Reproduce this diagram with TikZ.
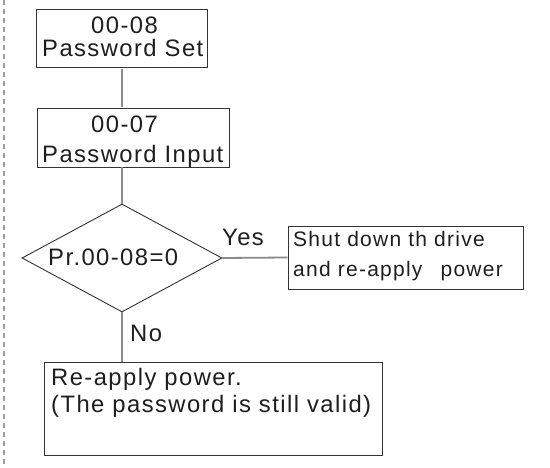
\documentclass[tikz,border=0pt]{standalone}
\usepackage{fontspec}
\setmainfont{Liberation Sans}[LetterSpace=6]
\usetikzlibrary{shapes.geometric}
\definecolor{linegray}{HTML}{8A8A8A}
\definecolor{dashgray}{HTML}{A0A0A0}
\definecolor{boxline}{HTML}{333333}
\definecolor{txt}{HTML}{1E1E1E}
\begin{document}
\begin{tikzpicture}[x=1pt,y=-1pt,
  box/.style={draw=boxline,line width=0.9pt,rectangle,inner sep=0pt},
  dec/.style={draw=boxline,line width=0.9pt,diamond,inner sep=0pt},
  conn/.style={draw=linegray,line width=1.8pt},
  lbl/.style={anchor=base west,inner sep=0pt,text=txt,font=\fontsize{23.8}{26}\selectfont},
  lblc/.style={anchor=base,inner sep=0pt,text=txt,font=\fontsize{23.8}{26}\selectfont},
  lbls/.style={anchor=base west,inner sep=0pt,text=txt,font=\fontsize{21}{24}\selectfont}]
\useasboundingbox (0,0) rectangle (550,468);
\draw[dashgray,line width=1.4pt,dash pattern=on 5pt off 4pt] (4,0) -- (4,468);
% boxes
\node[box,minimum width=171pt,minimum height=58pt] (b1) at (121.5,38) {};
\node[box,minimum width=192pt,minimum height=59pt] (b2) at (133,137.5) {};
\node[dec,minimum width=200pt,minimum height=108pt] (d) at (122,258) {};
\node[box,minimum width=235pt,minimum height=63pt] (yb) at (405.5,257.5) {};
\node[box,minimum width=338pt,minimum height=93pt] (nb) at (213,408.5) {};
% texts
\node[lblc] (t1a) at (124.5,34) {00-08};
\node[lbl] (t1b) at (42,57) {Password Set};
\node[lblc] (t2a) at (124.5,133) {00-07};
\node[lbl] (t2b) at (42,163) {Password Input};
\node[lbl] (td) at (48,266) {Pr.00-08=0};
\node[lbl] (tyes) at (222,246) {Yes};
\node[lbls] (ty1) at (293,247) {Shut down th drive};
\node[lbls] (ty2) at (293,277) {and re-apply\hspace{11pt} power};
\node[lbl] (tno) at (130,342) {No};
\node[lbl] (tn1) at (51,385) {Re-apply power.};
\node[lbl] (tn2) at (51,413) {(The password is still valid)};
% connectors
\draw[conn,shorten <=2pt,shorten >=1pt] (b1.south -| d.north) -- (b2.north -| d.north);
\draw[conn] (b2.south -| d.north) -- (d.north);
\draw[conn] (d.east) -- (yb.west);
\draw[conn] (d.south) -- (d.south |- nb.north);
\end{tikzpicture}
\end{document}
